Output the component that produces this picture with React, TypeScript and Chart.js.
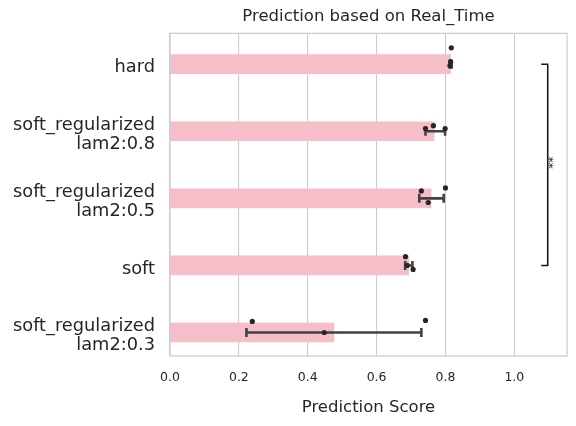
import React, { useEffect, useRef } from "react";
import { Chart, registerables } from "chart.js";

Chart.register(...registerables);

// ---- data ----
const categories: string[][] = [
  ["hard"],
  ["soft_regularized", "lam2:0.8"],
  ["soft_regularized", "lam2:0.5"],
  ["soft"],
  ["soft_regularized", "lam2:0.3"],
];
const barMeans = [0.815, 0.767, 0.758, 0.693, 0.476];
const ciLow = [0.813, 0.742, 0.724, 0.683, 0.222];
const ciHigh = [0.818, 0.799, 0.795, 0.704, 0.73];
const runScores = [
  [0.817, 0.815, 0.813],
  [0.765, 0.742, 0.799],
  [0.73, 0.8, 0.75],
  [0.684, 0.689, 0.706],
  [0.239, 0.742, 0.448],
];
const runJitter = [
  [-0.244, -0.037, 0.022],
  [-0.084, -0.04, -0.04],
  [-0.111, -0.156, 0.062],
  [-0.13, 0.0, 0.06],
  [-0.166, -0.181, 0.0],
];
const xTicks = [0, 0.2, 0.4, 0.6, 0.8, 1.0];
const sigFrom = 0;
const sigTo = 3;
const sigLabel = "**";
const sigX = 1.097;
const sigCapX = 1.078;
const sigTextX = 1.115;
const titleText = "Prediction based on Real_Time";
const xLabel = "Prediction Score";

const FONT = "'DejaVu Sans', sans-serif";
const TEXT = "#262626";

export default function App() {
  const ref = useRef<HTMLCanvasElement | null>(null);

  useEffect(() => {
    document.body.style.margin = "0";
    const canvas = ref.current;
    if (!canvas) return;

    const extras = {
      id: "extras",
      afterDatasetDraw(chart: any, args: any) {
        if (args.index !== 0) return;
        const { ctx, scales } = chart;
        const xs = scales.x;
        const ys = scales.y;
        ctx.save();
        ctx.strokeStyle = "#424242";
        ctx.lineWidth = 2.6;
        ctx.lineCap = "butt";
        for (let i = 0; i < barMeans.length; i++) {
          const y = ys.getPixelForValue(i);
          const x1 = xs.getPixelForValue(ciLow[i]);
          const x2 = xs.getPixelForValue(ciHigh[i]);
          ctx.beginPath();
          ctx.moveTo(x1, y);
          ctx.lineTo(x2, y);
          ctx.moveTo(x1, y - 4.5);
          ctx.lineTo(x1, y + 4.5);
          ctx.moveTo(x2, y - 4.5);
          ctx.lineTo(x2, y + 4.5);
          ctx.stroke();
        }
        ctx.restore();
      },
      afterDraw(chart: any) {
        const { ctx, chartArea, scales } = chart;
        const xs = scales.x;
        const ys = scales.y;
        ctx.save();
        // frame
        ctx.strokeStyle = "#cccccc";
        ctx.lineWidth = 1.25;
        ctx.strokeRect(chartArea.left, chartArea.top, chartArea.right - chartArea.left, chartArea.bottom - chartArea.top);
        // title
        ctx.fillStyle = TEXT;
        ctx.font = `16.5px ${FONT}`;
        ctx.textAlign = "center";
        ctx.textBaseline = "middle";
        ctx.fillText(titleText, (chartArea.left + chartArea.right) / 2, 17);
        // significance bracket
        const bx = xs.getPixelForValue(sigX);
        const cx = xs.getPixelForValue(sigCapX);
        const y1 = ys.getPixelForValue(sigFrom);
        const y2 = ys.getPixelForValue(sigTo);
        ctx.strokeStyle = "#1a1a1a";
        ctx.lineWidth = 1.6;
        ctx.beginPath();
        ctx.moveTo(cx, y1);
        ctx.lineTo(bx, y1);
        ctx.lineTo(bx, y2);
        ctx.lineTo(cx, y2);
        ctx.stroke();
        const tx = xs.getPixelForValue(sigTextX);
        const ty = (y1 + y2) / 2 - 2;
        ctx.translate(tx, ty);
        ctx.rotate(-Math.PI / 2);
        ctx.font = `12px ${FONT}`;
        ctx.fillStyle = "#1a1a1a";
        ctx.textAlign = "center";
        ctx.textBaseline = "middle";
        ctx.fillText(sigLabel, 0, 0);
        ctx.restore();
      },
    };

    const chart = new Chart(canvas, {
      type: "bar",
      data: {
        datasets: [
          {
            type: "bar",
            data: barMeans.map((v, i) => ({ x: v, y: i })),
            backgroundColor: "#f5bec8",
            borderWidth: 0,
            barThickness: 19,
            order: 2,
          } as any,
          {
            type: "scatter",
            data: runScores.flatMap((r, i) => r.map((v, j) => ({ x: v, y: i + runJitter[i][j] }))),
            backgroundColor: "#262626",
            borderWidth: 0,
            pointRadius: 2.6,
            order: 1,
          } as any,
        ],
      },
      options: {
        indexAxis: "y",
        animation: false,
        responsive: false,
        maintainAspectRatio: false,
        layout: { padding: { top: 31, right: 9, left: 0, bottom: 0 } },
        plugins: {
          legend: { display: false },
          tooltip: { enabled: false },
          title: { display: false },
        },
        scales: {
          x: {
            type: "linear",
            min: 0,
            max: 1.153,
            offset: false,
            afterBuildTicks: (s: any) => {
              s.ticks = xTicks.map((v) => ({ value: v }));
            },
            afterFit: (s: any) => {
              s.height = 70;
            },
            ticks: {
              callback: (v: any) => Number(v).toFixed(1),
              font: { family: FONT, size: 12.5 },
              color: TEXT,
              padding: 14,
              maxRotation: 0,
            },
            grid: { color: "#cccccc", lineWidth: 1.1, drawTicks: false, offset: false },
            border: { display: false },
            title: {
              display: true,
              text: xLabel,
              font: { family: FONT, size: 16.5 },
              color: TEXT,
              padding: { top: 0, bottom: 8 },
            },
          },
          y: {
            type: "linear",
            min: -0.46,
            max: 4.35,
            reverse: true,
            offset: false,
            afterBuildTicks: (s: any) => {
              s.ticks = categories.map((_, i) => ({ value: i }));
            },
            afterFit: (s: any) => {
              s.width = 170;
            },
            ticks: {
              callback: (v: any) => categories[Math.round(Number(v))],
              font: { family: FONT, size: 17.8, lineHeight: 1.03 },
              color: TEXT,
              padding: 15,
              labelOffset: 3.5,
            },
            grid: { display: false, drawTicks: false, offset: false },
            border: { display: false },
          },
        },
      } as any,
      plugins: [extras],
    });

    return () => chart.destroy();
  }, []);

  return (
    <div style={{ width: 576, height: 426, background: "#fff" }}>
      <canvas ref={ref} width={576} height={426} style={{ display: "block" }} />
    </div>
  );
}
